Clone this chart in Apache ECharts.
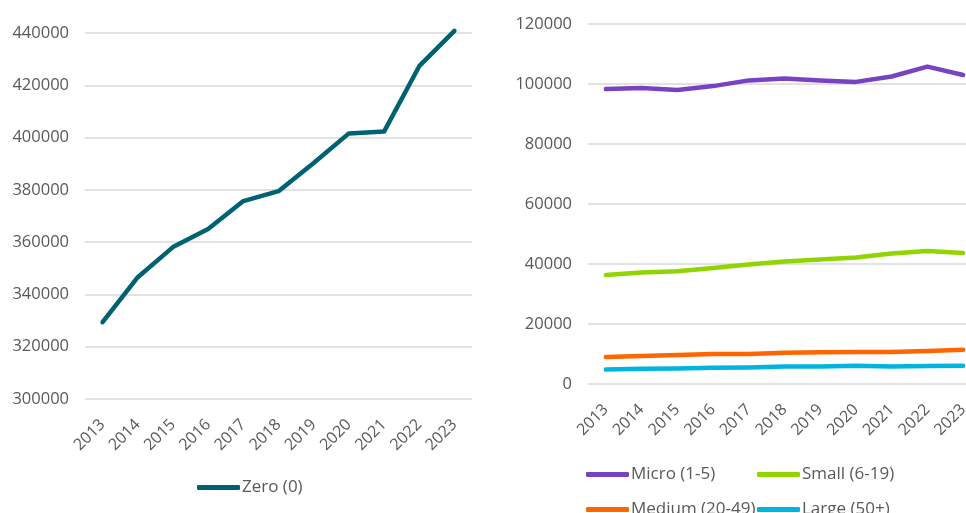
<!DOCTYPE html>
<html>
<head>
<meta charset="utf-8">
<script src="https://cdn.jsdelivr.net/npm/echarts@6/dist/echarts.min.js"></script>
<style>
  html, body { margin: 0; padding: 0; background: #fff; }
  #chart { width: 966px; height: 513px; }
</style>
</head>
<body>
<div id="chart"></div>
<script>
// Business counts by employee size band, 2013-2023
const years = ['2013', '2014', '2015', '2016', '2017', '2018', '2019', '2020', '2021', '2022', '2023'];

const zeroEmp = [329400, 346600, 358100, 365000, 375700, 379500, 390300, 401600, 402300, 427300, 440800];

const micro  = [98300, 98700, 98000, 99300, 101200, 101800, 101200, 100700, 102500, 105800, 103000];
const small  = [36300, 37200, 37600, 38700, 39800, 40800, 41500, 42200, 43500, 44300, 43700];
const medium = [9000, 9300, 9700, 10000, 10000, 10400, 10600, 10700, 10700, 11000, 11400];
const large  = [4800, 5100, 5200, 5400, 5500, 5800, 5800, 6100, 5800, 6000, 6100];

const leftTicks  = { min: 300000, max: 440000, interval: 20000 };
const rightTicks = { min: 0, max: 120000, interval: 20000 };

const FONT = '"Open Sans", "Noto Sans", sans-serif';
const GREY = '#595959';

const colors = {
  zero: '#006170',
  micro: '#7842C2',
  small: '#90D400',
  medium: '#FF6600',
  large: '#00B4E0'
};

function xAxis(gridIndex) {
  return {
    type: 'category',
    gridIndex: gridIndex,
    data: years,
    boundaryGap: true,
    axisLine: { show: false },
    axisTick: { show: false },
    axisLabel: { rotate: 45, color: GREY, fontFamily: FONT, fontSize: 16, margin: 23 }
  };
}

function yAxis(gridIndex, ticks) {
  return {
    type: 'value',
    gridIndex: gridIndex,
    min: ticks.min,
    max: ticks.max,
    interval: ticks.interval,
    axisLine: { show: false },
    axisTick: { show: false },
    axisLabel: {
      color: GREY, fontFamily: FONT, fontSize: 16.5, margin: 16,
      formatter: v => String(v)
    },
    splitLine: { lineStyle: { color: '#d9d9d9', width: 1.5 } }
  };
}

function lineSeries(name, data, color, axisIndex) {
  return {
    name: name,
    type: 'line',
    data: data,
    xAxisIndex: axisIndex,
    yAxisIndex: axisIndex,
    symbol: 'none',
    clip: false,
    lineStyle: { color: color, width: 4.5, cap: 'round', join: 'round' },
    itemStyle: { color: color }
  };
}

function legendItem(name, left, top) {
  return {
    data: [name],
    left: left,
    top: top,
    icon: 'roundRect',
    itemWidth: 43,
    itemHeight: 5,
    itemGap: 0,
    padding: 0,
    textStyle: { color: GREY, fontFamily: FONT, fontSize: 17, padding: [0, 0, 0, -3] }
  };
}

const chart = echarts.init(document.getElementById('chart'));
chart.setOption({
  animation: false,
  grid: [
    { left: 85, width: 387, top: 33, height: 366, containLabel: false, outerBoundsMode: 'none' },
    { left: 588, width: 393, top: 24, height: 360, containLabel: false, outerBoundsMode: 'none' }
  ],
  xAxis: [xAxis(0), xAxis(1)],
  yAxis: [yAxis(0, leftTicks), yAxis(1, rightTicks)],
  legend: [
    legendItem('Zero (0)', 197, 479),
    legendItem('Micro (1-5)', 586, 466),
    legendItem('Small (6-19)', 757, 466),
    legendItem('Medium (20-49)', 586, 501),
    legendItem('Large (50+)', 757, 501)
  ],
  series: [
    lineSeries('Zero (0)', zeroEmp, colors.zero, 0),
    lineSeries('Micro (1-5)', micro, colors.micro, 1),
    lineSeries('Small (6-19)', small, colors.small, 1),
    lineSeries('Medium (20-49)', medium, colors.medium, 1),
    lineSeries('Large (50+)', large, colors.large, 1)
  ]
});
</script>
</body>
</html>
